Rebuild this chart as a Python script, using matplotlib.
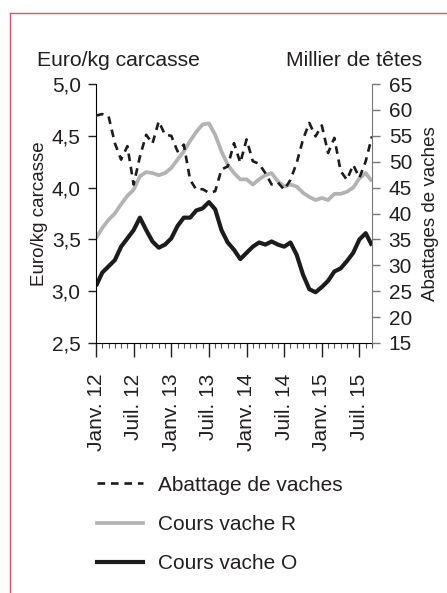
import matplotlib
matplotlib.use("Agg")
import matplotlib.pyplot as plt
from matplotlib.lines import Line2D
from matplotlib.ticker import MultipleLocator, FuncFormatter

# monthly series, janv. 2012 -> sept. 2015
months = list(range(45))
tick_labels = ["Janv. 12", "Juil. 12", "Janv. 13", "Juil. 13",
               "Janv. 14", "Juil. 14", "Janv. 15", "Juil. 15"]

# euro/kg carcasse
cours_o = [3.05, 3.18, 3.24, 3.30, 3.43, 3.51, 3.59, 3.71, 3.59, 3.48,
           3.42, 3.45, 3.51, 3.63, 3.71, 3.71, 3.78, 3.80, 3.86, 3.79,
           3.59, 3.47, 3.40, 3.31, 3.37, 3.43, 3.47, 3.45, 3.48, 3.45,
           3.43, 3.47, 3.35, 3.16, 3.02, 2.99, 3.04, 3.10, 3.19, 3.22,
           3.29, 3.37, 3.50, 3.56, 3.44]
cours_r = [3.51, 3.61, 3.69, 3.75, 3.84, 3.92, 3.98, 4.11, 4.15, 4.14,
           4.12, 4.14, 4.19, 4.27, 4.35, 4.45, 4.54, 4.61, 4.62, 4.51,
           4.35, 4.22, 4.14, 4.08, 4.08, 4.03, 4.08, 4.12, 4.14, 4.06,
           4.01, 4.03, 4.01, 3.95, 3.91, 3.88, 3.90, 3.88, 3.94, 3.94,
           3.96, 4.00, 4.09, 4.14, 4.06]
# milliers de tetes
abattages = [58.9, 59.2, 58.8, 53.6, 50.4, 53.0, 45.6, 51.0, 55.2, 53.5,
             57.8, 55.2, 55.0, 52.0, 53.3, 46.5, 44.6, 44.7, 44.0, 44.3,
             48.5, 49.1, 53.6, 49.8, 54.3, 50.1, 49.6, 47.8, 45.6, 46.0,
             44.6, 46.5, 49.8, 54.3, 57.5, 54.9, 57.0, 51.7, 54.6, 48.2,
             46.5, 49.4, 46.9, 50.1, 54.9]

plt.rcParams['font.family'] = ['Liberation Sans', 'DejaVu Sans']
txt = '#231f20'
dash = (2.9, 2.2)

fig = plt.figure(figsize=(4.47, 5.93), dpi=100)
ax = fig.add_axes([0.2148, 0.4216, 0.6174, 0.4367])

ax.plot(months, cours_r, color='#b3b3b3', lw=2.7, solid_capstyle='butt')
ax.plot(months, cours_o, color='#1c1c1c', lw=3.0, solid_capstyle='butt')

ax.set_xlim(0, 44)
ax.set_ylim(2.5, 5.0)
ax.yaxis.set_major_locator(MultipleLocator(0.5))
ax.yaxis.set_major_formatter(FuncFormatter(lambda v, p: ('%.1f' % v).replace('.', ',')))
ax.set_xticks(range(0, 45, 6))
ax.set_xticklabels(tick_labels, rotation=90)
ax.xaxis.set_minor_locator(MultipleLocator(1))
ax.tick_params(axis='x', which='major', length=10, width=1, pad=12, labelsize=15, colors=txt)
ax.tick_params(axis='x', which='minor', length=3.6, width=0.8, color='#555555')
ax.tick_params(axis='y', length=6, width=1, pad=5, labelsize=15, colors=txt)
ax.spines['top'].set_visible(False)
ax.spines['right'].set_visible(False)
ax.set_ylabel("Euro/kg carcasse", fontsize=13.5, color=txt, labelpad=3)

ax2 = ax.twinx()
ax2.plot(months, abattages, color='#1c1c1c', lw=1.9, dashes=dash)
ax2.set_ylim(15, 65)
ax2.yaxis.set_major_locator(MultipleLocator(5))
ax2.spines['top'].set_visible(False)
ax2.spines['left'].set_visible(False)
ax2.spines['bottom'].set_visible(False)
ax2.spines['right'].set_color('#777777')
ax2.tick_params(axis='y', length=6, width=1, pad=6, labelsize=15, colors='#777777', labelcolor=txt)
ax2.set_ylabel("Abattages de vaches", fontsize=13.5, color=txt, labelpad=7)

# unit headers above each axis
fig.text(37 / 447, 1 - 66 / 593, "Euro/kg carcasse", fontsize=15.2, color=txt, ha='left', va='baseline')
fig.text(422 / 447, 1 - 66 / 593, "Millier de têtes", fontsize=15.2, color=txt, ha='right', va='baseline')

handles = [Line2D([], [], color='#1c1c1c', lw=1.9, dashes=dash),
           Line2D([], [], color='#b3b3b3', lw=2.7),
           Line2D([], [], color='#1c1c1c', lw=3.0)]
labels = ["Abattage de vaches", "Cours vache R", "Cours vache O"]
fig.legend(handles, labels, loc='upper left', bbox_to_anchor=(78 / 447, 1 - 457 / 593),
           frameon=False, fontsize=15, handlelength=2.2, handletextpad=0.75,
           labelspacing=0.97, labelcolor=txt)

# pink frame (top and left edges)
frame_col = '#ee4d6a'
fig.add_artist(Line2D([10 / 447, 1.01], [1 - 13 / 593, 1 - 13 / 593], color=frame_col, lw=1,
                      transform=fig.transFigure))
fig.add_artist(Line2D([10 / 447, 10 / 447], [1 - 13 / 593, -0.01], color=frame_col, lw=1,
                      transform=fig.transFigure))

fig.savefig("out.png", dpi=100)
